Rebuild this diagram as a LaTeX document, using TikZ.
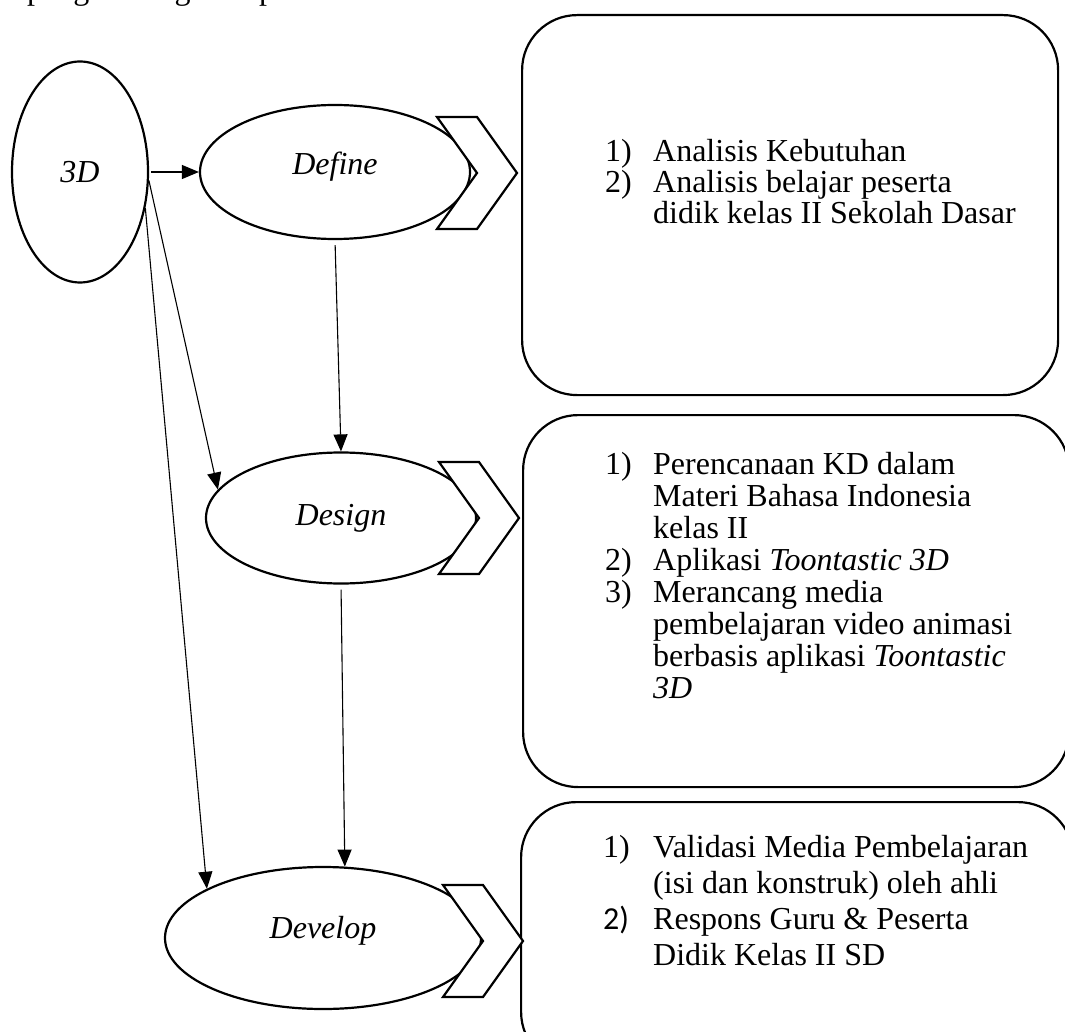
\documentclass[tikz,border=0pt]{standalone}
\usepackage{fontspec}
\setmainfont{Liberation Serif}
\newfontfamily\numfont{Carlito}
\usetikzlibrary{shapes.geometric,arrows.meta,positioning}

\begin{document}
\begin{tikzpicture}[x=1pt, y=-1pt,
    font=\fontsize{32}{32}\selectfont,
    stage/.style={ellipse,draw,line width=2.2pt,fill=white,inner sep=0pt,font=\fontsize{32}{32}\selectfont\itshape},
    infobox/.style={draw,line width=2.2pt,rounded corners=55pt,anchor=north west,inner sep=0pt},
    list/.style={anchor=base west,align=left,inner sep=0pt},
    link/.style={line width=1.1pt,-{Triangle[length=17pt,width=14pt]}}]
    \useasboundingbox (0,0) rectangle (1065,1032);
    % line of the page above the figure
    \node[anchor=base west,inner sep=0pt] (intro) at (27,-0.5) {pengembangan dapat dilihat di bawah ini.};
    % Boxes
    \node[infobox,minimum width=536pt,minimum height=380pt] (bdef) at (521,14) {};
    \node[infobox,minimum width=546pt,minimum height=372pt] (bdes) at (522,414) {};
    \node[infobox,minimum width=552pt,minimum height=265pt] (bdev) at (520,801) {};
    % Stages
    \node[stage,minimum width=136pt,minimum height=221pt] (s3d) at (80,172) {3D};
    \node[stage,minimum width=270pt,minimum height=134pt] (define) at (335,172) {\raisebox{5pt}[\height][\depth]{Define}};
    \node[stage,minimum width=270pt,minimum height=131pt] (design) at (341,518) {Design};
    \node[stage,minimum width=316pt,minimum height=142pt] (develop) at (323,938) {\raisebox{7pt}[\height][\depth]{Develop}};
    % Chevrons
    \foreach \x/\y in {437/173, 439/518, 443/941}
        \draw[line width=2.2pt,fill=white] (\x,{\y-56}) -- ++(40,0) -- ++(40,56) -- ++(-40,56) -- ++(-40,0) -- ++(40,-56) -- cycle;
    % Lists (anchored at the baseline of the last line)
    \node[list,font=\fontsize{32}{31}\selectfont] (ldef) at (605,224) {\makebox[48pt][l]{1)}Analisis Kebutuhan\\
        \makebox[48pt][l]{2)}Analisis belajar peserta\\
        \hspace*{48pt}didik kelas II Sekolah Dasar};
    \node[list,font=\fontsize{32}{32}\selectfont] (ldes) at (605,698) {\makebox[48pt][l]{1)}Perencanaan KD dalam\\
        \hspace*{48pt}Materi Bahasa Indonesia\\
        \hspace*{48pt}kelas II\\
        \makebox[48pt][l]{2)}Aplikasi \textit{Toontastic 3D}\\
        \makebox[48pt][l]{3)}Merancang media\\
        \hspace*{48pt}pembelajaran video animasi\\
        \hspace*{48pt}berbasis aplikasi \textit{Toontastic}\\
        \hspace*{48pt}\textit{3D}};
    \node[list,font=\fontsize{32}{36}\selectfont] (ldev) at (603,965) {\makebox[50pt][l]{1)}Validasi Media Pembelajaran\\
        \hspace*{50pt}(isi dan konstruk) oleh ahli\\
        \makebox[50pt][l]{\numfont 2)}Respons Guru \& Peserta\\
        \hspace*{50pt}Didik Kelas II SD};
    % Arrows
    \draw[link,shorten <=2pt] (s3d.east) -- (define.west);
    \draw[link,shorten <=5pt] (define.south) -- (design.north);
    \draw[link,shorten <=5pt] (design.south) -- (develop.73);
    \draw[link] (s3d.-7) -- (design.167);
    \draw[link] (s3d.-29) -- (develop.157);
\end{tikzpicture}
\end{document}
